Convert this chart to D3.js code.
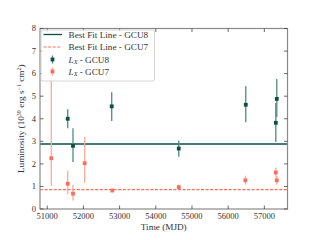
<!DOCTYPE html>
<html><head><meta charset="utf-8">
<script src="https://cdn.jsdelivr.net/npm/d3@7"></script>
<style>body{margin:0;background:#fff}svg{display:block}text{font-family:"Liberation Serif","DejaVu Serif",serif;fill:#333}</style>
</head><body><svg id="c" width="320" height="240"></svg>
<script>
const xTicks=[51000,52000,53000,54000,55000,56000,57000];
const yTicks=[0,1,2,3,4,5,6,7,8];
const gcu8Time=[51566,51712,52782,54635,56487,57344,57317];
const gcu8L=[4.0,2.8,4.55,2.68,4.62,4.88,3.82];
const gcu8ErrLow=[0.42,0.72,0.65,0.36,0.78,0.8,0.85];
const gcu8ErrHigh=[0.42,0.78,0.63,0.36,0.82,0.88,0.88];
const gcu7Time=[51112,51566,51712,52035,52799,54635,56476,57317,57344];
const gcu7L=[2.25,1.12,0.68,2.03,0.82,0.97,1.27,1.62,1.27];
const gcu7ErrLow=[1.23,0.47,0.3,0.87,0.08,0.1,0.2,0.22,0.2];
const gcu7ErrHigh=[4.0,0.57,0.4,1.17,0.08,0.1,0.2,0.22,0.2];
const fitGCU8=2.88, fitGCU7=0.86;
const legendLabels=["Best Fit Line - GCU8","Best Fit Line - GCU7","GCU8","GCU7"];

const dark="#0b4f45", darkErr="#4f8a80", sal="#f96f5c", salErr="#fba99c";
const svg=d3.select("#c");
const L=40,R=287.5,T=28.5,B=209;
const x=d3.scaleLinear().domain([50800,57640]).range([L,R]);
const y=d3.scaleLinear().domain([0,8]).range([B,T]);

const g=svg.append("g");
svg.append("defs").append("clipPath").attr("id","cp").append("rect").attr("x",L).attr("y",T).attr("width",R-L).attr("height",B-T);
const pg=g.append("g").attr("clip-path","url(#cp)");

pg.append("line").attr("x1",L).attr("x2",R).attr("y1",y(fitGCU8)).attr("y2",y(fitGCU8)).attr("stroke",dark).attr("stroke-width",1.3);
pg.append("line").attr("x1",L).attr("x2",R).attr("y1",y(fitGCU7)).attr("y2",y(fitGCU7)).attr("stroke",sal).attr("stroke-width",1.2).attr("stroke-dasharray","3,1.6");

function series(t,v,lo,hi,ec,mc){
  t.forEach((d,i)=>{
    pg.append("line").attr("x1",x(d)).attr("x2",x(d)).attr("y1",y(v[i]-lo[i])).attr("y2",y(v[i]+hi[i])).attr("stroke",ec).attr("stroke-width",1.3);
    pg.append("rect").attr("x",x(d)-1.9).attr("y",y(v[i])-1.9).attr("width",3.8).attr("height",3.8).attr("fill",mc);
  });
}
series(gcu7Time,gcu7L,gcu7ErrLow,gcu7ErrHigh,salErr,sal);
series(gcu8Time,gcu8L,gcu8ErrLow,gcu8ErrHigh,darkErr,dark);

const ax="#8a8a8a";
g.append("rect").attr("x",L).attr("y",T).attr("width",R-L).attr("height",B-T).attr("fill","none").attr("stroke",ax).attr("stroke-width",1.2);
xTicks.forEach(t=>{
  g.append("line").attr("x1",x(t)).attr("x2",x(t)).attr("y1",B).attr("y2",B-3.5).attr("stroke","#444").attr("stroke-width",0.8);
  g.append("line").attr("x1",x(t)).attr("x2",x(t)).attr("y1",T).attr("y2",T+3.5).attr("stroke","#444").attr("stroke-width",0.8);
  g.append("text").attr("x",x(t)).attr("y",B+10).attr("text-anchor","middle").attr("font-size",8.5).text(t);
});
yTicks.forEach(t=>{
  g.append("line").attr("y1",y(t)).attr("y2",y(t)).attr("x1",L).attr("x2",L+3.5).attr("stroke","#444").attr("stroke-width",0.8);
  g.append("line").attr("y1",y(t)).attr("y2",y(t)).attr("x1",R).attr("x2",R-3.5).attr("stroke","#444").attr("stroke-width",0.8);
  g.append("text").attr("x",L-4).attr("y",y(t)+2.8).attr("text-anchor","end").attr("font-size",8.5).text(t);
});
g.append("text").attr("x",(L+R)/2).attr("y",230).attr("text-anchor","middle").attr("font-size",9.2).text("Time (MJD)");
const yl=g.append("text").attr("transform",`translate(24,${(T+B)/2}) rotate(-90)`).attr("text-anchor","middle").attr("font-size",9.2);
yl.append("tspan").text("Luminosity (10");
yl.append("tspan").attr("font-size",6).attr("dy",-3.2).text("39");
yl.append("tspan").attr("dy",3.2).text(" erg s");
yl.append("tspan").attr("font-size",6).attr("dy",-3.2).text("−1");
yl.append("tspan").attr("dy",3.2).text(" cm");
yl.append("tspan").attr("font-size",6).attr("dy",-3.2).text("2");
yl.append("tspan").attr("dy",3.2).text(")");

const lg=g.append("g");
lg.append("rect").attr("x",41).attr("y",30).attr("width",113.5).attr("height",51).attr("rx",2).attr("fill","#fff").attr("fill-opacity",0.85).attr("stroke","#ccc").attr("stroke-width",0.8);
const ly=[34.5,47,59.5,71.5];
lg.append("line").attr("x1",43.5).attr("x2",62).attr("y1",ly[0]).attr("y2",ly[0]).attr("stroke",dark).attr("stroke-width",1.3);
lg.append("line").attr("x1",43.5).attr("x2",62).attr("y1",ly[1]).attr("y2",ly[1]).attr("stroke",sal).attr("stroke-width",1.2).attr("stroke-dasharray","3,1.6");
[[dark,darkErr],[sal,salErr]].forEach((c,i)=>{
  const yy=ly[2+i];
  lg.append("line").attr("x1",52.5).attr("x2",52.5).attr("y1",yy-4).attr("y2",yy+4).attr("stroke",c[1]).attr("stroke-width",1.3);
  lg.append("rect").attr("x",50.6).attr("y",yy-1.9).attr("width",3.8).attr("height",3.8).attr("fill",c[0]);
});
legendLabels.forEach((s,i)=>{
  const t=lg.append("text").attr("x",68.5).attr("y",ly[i]+3).attr("font-size",9.2);
  if(i<2){t.text(s);}else{
    t.append("tspan").attr("font-style","italic").text("L");
    t.append("tspan").attr("font-style","italic").attr("font-size",6.2).attr("dy",1.8).text("X");
    t.append("tspan").attr("dy",-1.8).text(" - "+s);
  }
});
</script></body></html>
